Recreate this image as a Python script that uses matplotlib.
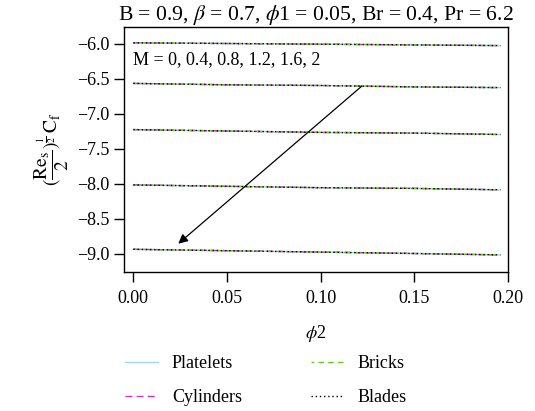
import numpy as np
import matplotlib
matplotlib.use("Agg")
import matplotlib.pyplot as plt

plt.rcParams['font.family'] = ['Liberation Serif', 'DejaVu Serif']
plt.rcParams['mathtext.fontset'] = 'stix'
plt.rcParams['font.size'] = 13

# phi2 sample points and skin friction for each M (M = 0 ... 2)
phi2 = [0.0, 0.05, 0.10, 0.15, 0.196]
cf_curves = [
    [-5.99, -6.00, -6.01, -6.02, -6.03],
    [-6.57, -6.59, -6.60, -6.62, -6.63],
    [-7.23, -7.25, -7.27, -7.28, -7.30],
    [-8.02, -8.04, -8.06, -8.07, -8.09],
    [-8.94, -8.96, -8.98, -9.00, -9.02],
]

shapes = ['Platelets', 'Cylinders', 'Bricks', 'Blades']
colors = ['#9adbe8', '#cc33cc', '#66cc1a', 'black']
styles = ['-', (0, (5, 3)), (2, (4, 3)), (0, (1, 2))]

fig = plt.figure(figsize=(5.35, 4.11), dpi=100)
ax = fig.add_axes([124 / 535, 1 - 271.7 / 411, (507.7 - 124) / 535, (271.7 - 26.7) / 411])

for name, col, ls in zip(shapes, colors, styles):
    for i, cf in enumerate(cf_curves):
        ax.plot(phi2, cf, color=col, linestyle=ls, linewidth=1.0,
                label=name if i == 0 else None)

ax.annotate('', xy=(0.024, -8.86), xytext=(0.122, -6.61),
            arrowprops=dict(arrowstyle='-|>', color='black', lw=0.9,
                            mutation_scale=14, shrinkA=0, shrinkB=0))
ax.text(0.0, -6.23, 'M = 0, 0.4, 0.8, 1.2, 1.6, 2', ha='left', va='center')

ax.set_xlim(-0.005, 0.2)
ax.set_ylim(-9.26, -5.76)
ax.set_xticks([0.0, 0.05, 0.10, 0.15, 0.20])
ax.set_xticklabels(['0.00', '0.05', '0.10', '0.15', '0.20'])
ax.set_yticks([-6.0, -6.5, -7.0, -7.5, -8.0, -8.5, -9.0])
ax.set_yticklabels(['\u22126.0', '\u22126.5', '\u22127.0', '\u22127.5',
                    '\u22128.0', '\u22128.5', '\u22129.0'])
ax.tick_params(direction='out', length=7, width=1)
ax.tick_params(axis='x', pad=6)
for sp in ax.spines.values():
    sp.set_linewidth(1)

ax.set_title(r'B = 0.9, $\beta$ = 0.7, $\phi$1 = 0.05, Br = 0.4, Pr = 6.2', pad=4)
ax.set_xlabel(r'$\phi$2', labelpad=12)
ax.set_ylabel(r'$(\dfrac{\mathrm{Re_s}}{2})^{\frac{1}{2}}\,\mathrm{C_f}$',
              fontsize=14, labelpad=4)

fig.legend(loc='upper left', bbox_to_anchor=(125 / 535, 1 - 355 / 411),
           ncol=2, frameon=False, handlelength=1.8, handletextpad=0.8,
           columnspacing=3.8, labelspacing=0.95, borderpad=0, borderaxespad=0)

fig.savefig('out.png', dpi=100)
